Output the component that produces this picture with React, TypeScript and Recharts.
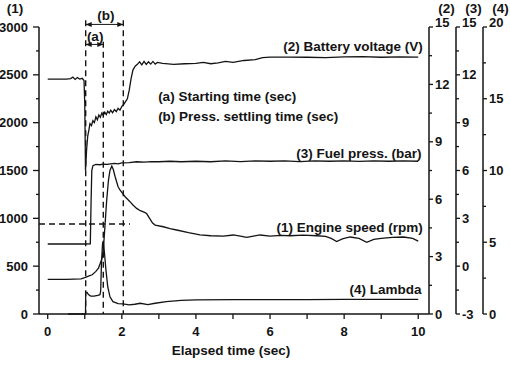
import React from "react";
import {
  ComposedChart,
  Line,
  XAxis,
  YAxis,
  ReferenceLine,
  ReferenceDot,
} from "recharts";

const INK = "#141414";
const FONT = "'Liberation Sans', Arial, Helvetica, sans-serif";

// time axis (sec)
const timeTicks = [0, 1, 2, 3, 4, 5, 6, 7, 8, 9, 10];
const timeLabels = [0, 2, 4, 6, 8, 10];

// axis (1) engine speed, rpm
const rpmTicks = [0, 250, 500, 750, 1000, 1250, 1500, 1750, 2000, 2250, 2500, 2750, 3000];
const rpmLabels = [0, 500, 1000, 1500, 2000, 2500, 3000];
// axis (2) battery voltage, V
const voltTicks = [0, 1.5, 3, 4.5, 6, 7.5, 9, 10.5, 12, 13.5, 15];
const voltLabels = [0, 3, 6, 9, 12, 15];
// axis (3) fuel pressure, bar
const pressTicks = [-3, -1.5, 0, 1.5, 3, 4.5, 6, 7.5, 9, 10.5, 12, 13.5, 15];
const pressLabels = [-3, 0, 3, 6, 9, 12, 15];
// axis (4) lambda
const lambdaTicks = [0, 2.5, 5, 7.5, 10, 12.5, 15, 17.5, 20];
const lambdaLabels = [0, 5, 10, 15, 20];

// (1) engine speed
const rpmT = [0, 0.5, 0.9, 1.0, 1.1, 1.2, 1.3, 1.37, 1.43, 1.47, 1.5, 1.55, 1.59, 1.64, 1.68, 1.73, 1.77, 1.82, 1.9, 1.95, 2.02, 2.09, 2.22, 2.3, 2.4, 2.5, 2.6, 2.67, 2.75, 2.83, 2.9, 3.12, 3.3, 3.48, 3.8, 4.11, 4.4, 4.74, 5.01, 5.2, 5.37, 5.55, 5.73, 6.0, 6.3, 6.54, 6.9, 7.26, 7.5, 7.65, 7.8, 7.95, 8.16, 8.4, 8.61, 8.8, 9.0, 9.3, 9.6, 9.85, 10.0];
const rpmV = [362, 362, 368, 380, 395, 410, 445, 480, 540, 590, 660, 950, 1180, 1400, 1500, 1545, 1510, 1435, 1330, 1296, 1260, 1226, 1174, 1140, 1104, 1080, 1065, 1050, 1000, 950, 930, 912, 893, 878, 850, 826, 818, 815, 826, 815, 802, 815, 826, 815, 822, 818, 825, 818, 812, 790, 757, 785, 805, 790, 750, 780, 790, 800, 805, 790, 762];

// (2) battery voltage
const voltT = [0, 0.5, 0.62, 0.68, 0.74, 0.8, 0.86, 0.93, 0.98, 1.0, 1.02, 1.05, 1.08, 1.11, 1.14, 1.18, 1.22, 1.26, 1.3, 1.34, 1.38, 1.42, 1.46, 1.5, 1.54, 1.58, 1.62, 1.66, 1.7, 1.75, 1.8, 1.85, 1.9, 1.95, 2.0, 2.05, 2.1, 2.15, 2.2, 2.25, 2.3, 2.36, 2.42, 2.48, 2.54, 2.6, 2.66, 2.72, 2.78, 2.84, 2.9, 2.96, 3.1, 3.4, 3.7, 4.0, 4.2, 4.4, 4.6, 4.8, 5.0, 5.3, 5.6, 5.8, 6.0, 6.5, 7.0, 7.5, 8.0, 8.5, 9.0, 9.5, 10];
const voltV = [12.28, 12.28, 12.3, 12.38, 12.26, 12.36, 12.28, 12.32, 12.2, 11.0, 7.5, 8.6, 9.3, 9.6, 9.95, 9.85, 10.1, 10.0, 10.3, 10.15, 10.4, 10.28, 10.5, 10.38, 10.55, 10.42, 10.6, 10.5, 10.65, 10.52, 10.68, 10.58, 10.75, 10.65, 10.85, 10.95, 11.1, 11.25, 11.7, 12.3, 12.75, 12.95, 13.05, 13.18, 13.02, 13.2, 13.04, 13.18, 13.06, 13.2, 13.06, 13.15, 13.1, 13.05, 13.08, 13.1, 13.15, 13.08, 13.12, 13.2, 13.15, 13.25, 13.3, 13.4, 13.43, 13.43, 13.42, 13.4, 13.44, 13.45, 13.42, 13.44, 13.43];

// (3) fuel pressure
const pressT = [0, 0.5, 1.0, 1.15, 1.17, 1.19, 1.22, 1.3, 1.4, 1.5, 1.6, 1.7, 1.8, 1.9, 2.0, 2.2, 2.4, 2.6, 2.8, 3.0, 3.3, 3.6, 4.0, 4.4, 4.8, 5.2, 5.6, 6.0, 6.4, 6.8, 7.2, 7.6, 8.0, 8.4, 8.8, 9.2, 9.6, 10];
const pressV = [1.39, 1.39, 1.39, 1.4, 4.0, 6.0, 6.3, 6.38, 6.36, 6.4, 6.38, 6.42, 6.45, 6.42, 6.48, 6.5, 6.55, 6.52, 6.56, 6.55, 6.58, 6.55, 6.58, 6.55, 6.6, 6.56, 6.6, 6.58, 6.6, 6.56, 6.6, 6.58, 6.6, 6.57, 6.6, 6.58, 6.6, 6.58];

// (4) lambda
const lambdaT = [0.55, 1.02, 1.025, 1.06, 1.1, 1.16, 1.25, 1.35, 1.41, 1.43, 1.45, 1.48, 1.5, 1.53, 1.57, 1.62, 1.68, 1.76, 1.9, 2.03, 2.2, 2.35, 2.5, 2.7, 2.9, 3.2, 3.6, 4.0, 5.0, 6.0, 7.0, 8.0, 9.0, 10.0];
const lambdaV = [0, 0, 1.45, 1.5, 1.35, 1.25, 1.25, 1.3, 1.35, 1.6, 3.5, 4.9, 5.1, 4.3, 3.1, 1.9, 1.2, 0.86, 0.72, 0.7, 0.63, 0.68, 0.75, 0.65, 0.75, 0.86, 0.95, 0.98, 1.0, 1.0, 1.0, 1.02, 1.02, 1.02];

// marker times: start, starting time end, pressure settled
const markerT = [1.025, 1.5, 2.04];
const markerRpm = 940;

const pts = (ts: number[], vs: number[]) => ts.map((t, i) => ({ t, v: vs[i] }));

const textProps = {
  fill: INK,
  fontFamily: FONT,
  fontWeight: "bold" as const,
};

function makeTick(side: "left" | "right" | "bottom", labels: number[], top?: number) {
  return (props: any) => {
    const { x, y, payload } = props;
    const v = payload.value;
    const major = labels.includes(v);
    if (side === "bottom") {
      return (
        <g>
          <line x1={x} x2={x} y1={y} y2={y + 5} stroke={INK} strokeWidth={1.3} />
          {major && (
            <text x={x} y={y + 22} textAnchor="middle" fontSize={13} {...textProps}>
              {v}
            </text>
          )}
        </g>
      );
    }
    const dir = side === "left" ? -1 : 1;
    const len = major ? (side === "left" ? 6 : 4) : 3;
    const shiftUp = top !== undefined && v === top ? -5 : 0;
    return (
      <g>
        <line x1={x} x2={x + dir * len} y1={y} y2={y} stroke={INK} strokeWidth={1.3} />
        {major && (
          <text
            x={x + dir * (side === "left" ? 11 : 6)}
            y={y + 4.5 + shiftUp}
            textAnchor={side === "left" ? "end" : "start"}
            fontSize={13}
            {...textProps}
          >
            {v}
          </text>
        )}
      </g>
    );
  };
}

const axisTitle = (text: string, dx: number) => (props: any) => {
  const { x, y, width } = props.viewBox;
  return (
    <text x={x + width / 2 + dx} y={y - 14} textAnchor="middle" fontSize={13.5} {...textProps}>
      {text}
    </text>
  );
};

const note = (text: string, anchor: "start" | "middle" | "end") => (p: any) => (
  <text x={p.cx} y={p.cy} textAnchor={anchor} fontSize={13.5} {...textProps}>
    {text}
  </text>
);

const arrowShape = (p: any) => {
  const a = Math.min(p.x1, p.x2);
  const b = Math.max(p.x1, p.x2);
  const y = p.y1;
  return (
    <g>
      <line x1={a} x2={b} y1={y} y2={y} stroke={INK} strokeWidth={1} />
      <path d={`M${a},${y} l6,-2.5 v5 z M${b},${y} l-6,-2.5 v5 z`} fill={INK} />
    </g>
  );
};

const dashed = {
  stroke: INK,
  strokeWidth: 1.4,
  strokeDasharray: "6 4",
  ifOverflow: "visible" as const,
  yAxisId: "y1",
};

export default function App() {
  return (
    <div style={{ position: "absolute", left: 0, top: 0, background: "#fff" }}>
      <ComposedChart width={510} height={368} margin={{ top: 27, right: 0, bottom: 0, left: 0 }}>
        <XAxis
          type="number"
          dataKey="t"
          domain={[-0.235, 10.29]}
          allowDataOverflow
          ticks={timeTicks}
          interval={0}
          tickSize={0}
          tickMargin={0}
          tickLine={false}
          tick={makeTick("bottom", timeLabels)}
          height={54}
          axisLine={{ stroke: INK, strokeWidth: 1.5 }}
          label={(props: any) => {
            const { x, y, width } = props.viewBox;
            return (
              <text x={x + width / 2 - 3} y={y + 41} textAnchor="middle" fontSize={13.5} {...textProps}>
                Elapsed time (sec)
              </text>
            );
          }}
        />
        {/* (1) engine speed */}
        <YAxis
          yAxisId="y1"
          orientation="left"
          domain={[0, 3000]}
          ticks={rpmTicks}
          interval={0}
          width={39}
          tickSize={0}
          tickMargin={0}
          tickLine={false}
          tick={makeTick("left", rpmLabels)}
          axisLine={{ stroke: INK, strokeWidth: 1.5 }}
          label={axisTitle("(1)", -4.5)}
        />
        {/* (2) battery voltage, next to the plot */}
        <YAxis
          yAxisId="y2"
          orientation="right"
          domain={[0, 15]}
          ticks={voltTicks}
          interval={0}
          width={27}
          tickSize={0}
          tickMargin={0}
          tickLine={false}
          tick={makeTick("right", voltLabels, 15)}
          axisLine={{ stroke: INK, strokeWidth: 1.5 }}
          label={axisTitle("(2)", 4)}
        />
        {/* (3) fuel pressure */}
        <YAxis
          yAxisId="y3"
          orientation="right"
          domain={[-3, 15]}
          ticks={pressTicks}
          interval={0}
          width={27}
          tickSize={0}
          tickMargin={0}
          tickLine={false}
          tick={makeTick("right", pressLabels, 15)}
          axisLine={{ stroke: INK, strokeWidth: 1.5 }}
          label={axisTitle("(3)", 4)}
        />
        {/* (4) lambda */}
        <YAxis
          yAxisId="y4"
          orientation="right"
          domain={[0, 20]}
          ticks={lambdaTicks}
          interval={0}
          width={27}
          tickSize={0}
          tickMargin={0}
          tickLine={false}
          tick={makeTick("right", lambdaLabels, 20)}
          axisLine={{ stroke: INK, strokeWidth: 1.5 }}
          label={axisTitle("(4)", 4)}
        />

        {/* timing markers */}
        <ReferenceLine {...dashed} segment={[{ x: markerT[0], y: 3070 }, { x: markerT[0], y: 0 }]} />
        <ReferenceLine {...dashed} segment={[{ x: markerT[1], y: 2845 }, { x: markerT[1], y: 0 }]} />
        <ReferenceLine {...dashed} segment={[{ x: markerT[2], y: 3070 }, { x: markerT[2], y: 0 }]} />
        <ReferenceLine {...dashed} segment={[{ x: -0.235, y: markerRpm }, { x: 2.22, y: markerRpm }]} />
        <ReferenceLine
          yAxisId="y1"
          ifOverflow="visible"
          segment={[{ x: markerT[0], y: 3027 }, { x: markerT[2], y: 3027 }]}
          shape={arrowShape}
        />
        <ReferenceLine
          yAxisId="y1"
          ifOverflow="visible"
          segment={[{ x: markerT[0], y: 2818 }, { x: markerT[1], y: 2818 }]}
          shape={arrowShape}
        />
        <ReferenceDot yAxisId="y1" ifOverflow="visible" x={1.57} y={3075} r={0} shape={note("(b)", "middle")} />
        <ReferenceDot yAxisId="y1" ifOverflow="visible" x={1.28} y={2858} r={0} shape={note("(a)", "middle")} />

        <Line yAxisId="y2" data={pts(voltT, voltV)} dataKey="v" type="linear" stroke={INK} strokeWidth={1.3} dot={false} isAnimationActive={false} />
        <Line yAxisId="y3" data={pts(pressT, pressV)} dataKey="v" type="linear" stroke={INK} strokeWidth={1.3} dot={false} isAnimationActive={false} />
        <Line yAxisId="y1" data={pts(rpmT, rpmV)} dataKey="v" type="linear" stroke={INK} strokeWidth={1.3} dot={false} isAnimationActive={false} />
        <Line yAxisId="y4" data={pts(lambdaT, lambdaV)} dataKey="v" type="linear" stroke={INK} strokeWidth={1.3} dot={false} isAnimationActive={false} />

        {/* curve labels */}
        <ReferenceDot yAxisId="y1" ifOverflow="visible" x={10.12} y={2748} r={0} shape={note("(2) Battery voltage (V)", "end")} />
        <ReferenceDot yAxisId="y1" ifOverflow="visible" x={2.98} y={2226} r={0} shape={note("(a) Starting time (sec)", "start")} />
        <ReferenceDot yAxisId="y1" ifOverflow="visible" x={2.98} y={2017} r={0} shape={note("(b) Press. settling time (sec)", "start")} />
        <ReferenceDot yAxisId="y1" ifOverflow="visible" x={10.09} y={1635} r={0} shape={note("(3) Fuel press. (bar)", "end")} />
        <ReferenceDot yAxisId="y1" ifOverflow="visible" x={10.12} y={857} r={0} shape={note("(1) Engine speed (rpm)", "end")} />
        <ReferenceDot yAxisId="y1" ifOverflow="visible" x={10.09} y={209} r={0} shape={note("(4) Lambda", "end")} />
      </ComposedChart>
    </div>
  );
}
